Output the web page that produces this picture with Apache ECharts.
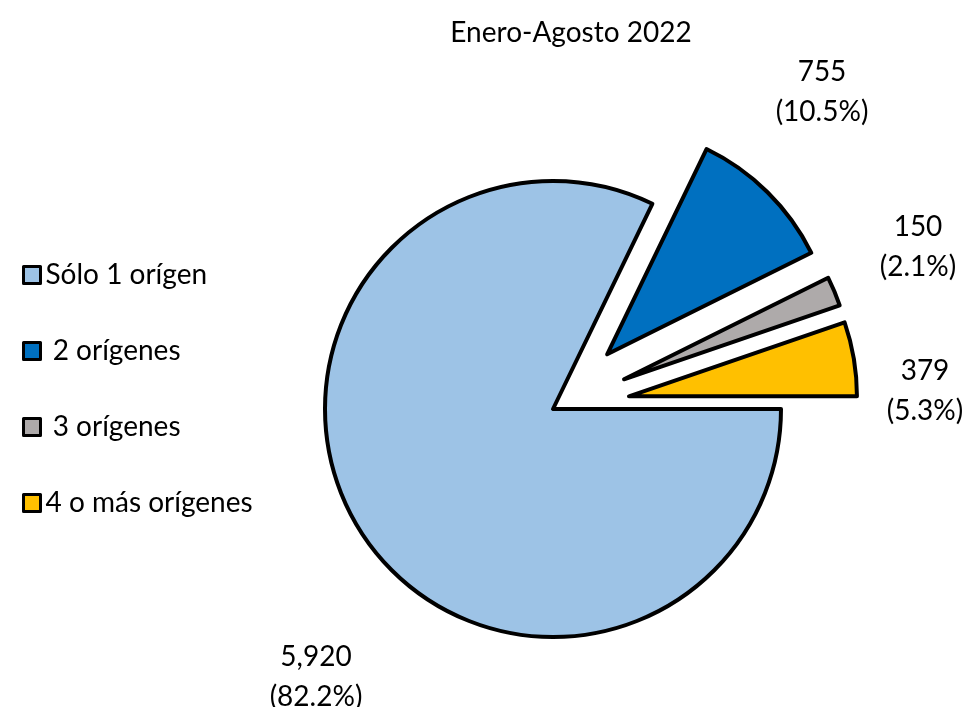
<!DOCTYPE html>
<html>
<head>
<meta charset="utf-8">
<script src="https://cdn.jsdelivr.net/npm/echarts@6/dist/echarts.min.js"></script>
<style>
html,body{margin:0;padding:0;background:#fff;}
#chart{width:965px;height:707px;}
</style>
</head>
<body>
<div id="chart"></div>
<script>
const titleText = 'Enero-Agosto 2022';
const categories = ['Sólo 1 orígen', ' 2 orígenes', ' 3 orígenes', '4 o más orígenes'];
const values = [5920, 755, 150, 379];
const exploded = [false, true, true, true];
const colors = ['#9DC3E6', '#0070C0', '#AEAAAA', '#FFC000'];
// label block centres (text placement only)
const labelPos = [[316, 677], [822, 92], [918, 247], [925, 391]];

const total = values.reduce((a, b) => a + b, 0);
const FONT = 'Lato';
const FS = 28;

const pieCommon = {
  type: 'pie',
  center: [553, 409],
  radius: 228,
  startAngle: 0,
  clockwise: true,
  avoidLabelOverlap: false,
  emphasis: {disabled: true},
  labelLine: {show: false}
};

const chart = echarts.init(document.getElementById('chart'), null, {renderer: 'canvas'});
chart.setOption({
  animation: false,
  backgroundColor: '#fff',
  title: {
    text: titleText,
    left: 566, top: 14,
    textAlign: 'center',
    textStyle: {fontFamily: FONT, fontSize: FS, fontWeight: 'normal', color: '#000'}
  },
  legend: {
    orient: 'vertical',
    left: 22, top: 261,
    padding: 0,
    itemWidth: 17, itemHeight: 17,
    itemGap: 48,
    icon: 'rect',
    selectedMode: false,
    data: categories,
    textStyle: {fontFamily: FONT, fontSize: FS, color: '#000'},
    itemStyle: {borderColor: '#000', borderWidth: 3}
  },
  series: [
    Object.assign({}, pieCommon, {
      name: 'main',
      selectedMode: 'multiple',
      selectedOffset: 77,
      itemStyle: {borderColor: '#000', borderWidth: 4},
      select: {itemStyle: {borderColor: '#000', borderWidth: 4}},
      label: {show: false},
      data: categories.map((c, i) => ({
        name: c,
        value: values[i],
        selected: exploded[i],
        itemStyle: {color: colors[i]}
      }))
    }),
    Object.assign({}, pieCommon, {
      name: 'labels',
      silent: true,
      selectedMode: false,
      itemStyle: {color: 'rgba(0,0,0,0)', borderWidth: 0},
      label: {
        show: true,
        position: 'outside',
        fontFamily: FONT, fontSize: FS, color: '#000',
        lineHeight: 40,
        formatter: p => p.value.toLocaleString('en-US') + '\n(' + (p.value / total * 100).toFixed(1) + '%)'
      },
      labelLayout: p => ({
        x: labelPos[p.dataIndex][0],
        y: labelPos[p.dataIndex][1],
        align: 'center',
        verticalAlign: 'middle'
      }),
      data: categories.map((c, i) => ({name: c, value: values[i]}))
    })
  ]
});
</script>
</body>
</html>
